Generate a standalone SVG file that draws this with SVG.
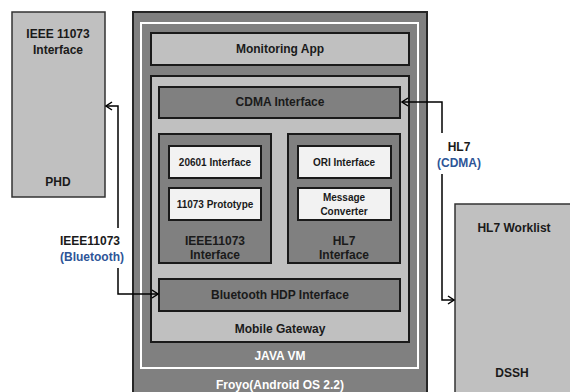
<svg xmlns="http://www.w3.org/2000/svg" width="570" height="392" viewBox="0 0 570 392">
<defs>
<style>
text{font-family:"Liberation Sans",Arial,sans-serif;font-weight:bold;font-size:12px;fill:#1a1a1a;text-anchor:middle}
.s{font-size:10px}
.w{fill:#ffffff}
.b{fill:#2e5597}
.lg{fill:#c0c0c0;stroke:#1a1a1a;stroke-width:2}
.dg{fill:#808080;stroke:#1a1a1a;stroke-width:2}
.wh{fill:#f2f2f2;stroke:#1a1a1a;stroke-width:2}
.ext{fill:#c0c0c0;stroke:#333333;stroke-width:1.5}
.c{fill:none;stroke:#000000;stroke-width:1.5}
</style>
<marker id="arr" viewBox="0 0 8 10" refX="7" refY="5" markerWidth="8" markerHeight="10" markerUnits="userSpaceOnUse" orient="auto-start-reverse">
<path d="M1,1 L7,5 L1,9" fill="none" stroke="#000" stroke-width="1.5"/>
</marker>
</defs>
<g id="phd">
<rect class="ext" x="12" y="12" width="93" height="185"/>
<text x="58" y="38">IEEE 11073</text>
<text x="58" y="54">Interface</text>
<text x="58" y="186">PHD</text>
</g>
<g id="dssh">
<rect class="ext" x="455" y="204" width="122" height="200"/>
<text x="514" y="232">HL7 Worklist</text>
<text x="512" y="377">DSSH</text>
</g>
<g id="froyo">
<rect x="133" y="12" width="294" height="392" fill="#808080" stroke="#262626" stroke-width="2"/>
<text class="w" x="280" y="389">Froyo(Android OS 2.2)</text>
</g>
<g id="javavm">
<rect x="141" y="23" width="277" height="345" fill="none" stroke="#ffffff" stroke-width="2"/>
<text class="w" x="280" y="360">JAVA VM</text>
</g>
<g id="monitoring-app">
<rect class="lg" x="151" y="33" width="258" height="32"/>
<text x="280" y="53">Monitoring App</text>
</g>
<g id="mobile-gateway">
<rect class="lg" x="151" y="76" width="258" height="266"/>
<text x="280" y="333">Mobile Gateway</text>
</g>
<g id="cdma-interface">
<rect class="dg" x="159" y="87" width="241" height="31"/>
<text x="280" y="106">CDMA Interface</text>
</g>
<g id="ieee11073-interface">
<rect class="dg" x="159" y="134" width="112" height="129"/>
<text x="215" y="245">IEEE11073</text>
<text x="215" y="259">Interface</text>
</g>
<g id="hl7-interface">
<rect class="dg" x="288" y="134" width="112" height="129"/>
<text x="344" y="245">HL7</text>
<text x="344" y="259">Interface</text>
</g>
<g id="i20601">
<rect class="wh" x="169" y="146" width="92" height="32"/>
<text class="s" x="215" y="166">20601 Interface</text>
</g>
<g id="prototype">
<rect class="wh" x="169" y="188" width="92" height="32"/>
<text class="s" x="215" y="208">11073 Prototype</text>
</g>
<g id="ori">
<rect class="wh" x="298" y="146" width="93" height="32"/>
<text class="s" x="344" y="166">ORI Interface</text>
</g>
<g id="message-converter">
<rect class="wh" x="298" y="188" width="93" height="32"/>
<text class="s" x="344" y="201">Message</text>
<text class="s" x="344" y="215">Converter</text>
</g>
<g id="bluetooth-hdp">
<rect class="dg" x="159" y="279" width="241" height="32"/>
<text x="280" y="299">Bluetooth HDP Interface</text>
</g>
<g id="connectors">
<polyline class="c" points="118,228 118,106 106,106" marker-end="url(#arr)"/>
<polyline class="c" points="118,268 118,294 158,294" marker-end="url(#arr)"/>
<polyline class="c" points="442,133 442,102 402,102" marker-end="url(#arr)"/>
<polyline class="c" points="442,174 442,300 454,300" marker-end="url(#arr)"/>
<text x="90" y="245">IEEE11073</text>
<text class="b" x="92" y="261">(Bluetooth)</text>
<text x="459" y="151">HL7</text>
<text class="b" x="459" y="167">(CDMA)</text>
</g>
</svg>
